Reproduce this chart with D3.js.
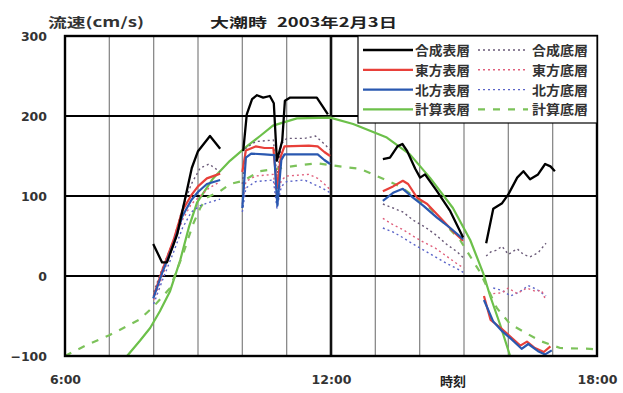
<!DOCTYPE html>
<html>
<head>
<meta charset="utf-8">
<script src="https://cdn.jsdelivr.net/npm/d3@7/dist/d3.min.js"></script>
<style>
  body { margin: 0; background: #fff; }
  svg { display: block; }
</style>
</head>
<body>
<div id="chart"></div>
<script>
// hours (decimal) and speed cm/s, null = gap between measuring runs
var gousei_hyo = [
  [7.99, 40], [8.19, 17], [8.3, 17], [8.53, 52], [8.71, 97], [8.86, 135], [9.0, 156], [9.27, 175], [9.5, 159], null,
  [10.02, 156], [10.1, 202], [10.22, 221], [10.33, 226], [10.47, 223], [10.62, 225], [10.71, 216], [10.78, 144],
  [10.9, 169], [10.96, 219], [11.08, 223], [11.68, 223], [11.8, 213], [11.93, 202], null,
  [13.17, 146], [13.33, 148], [13.5, 162], [13.61, 165], [13.72, 156], [13.9, 134], [14.01, 123], [14.12, 127],
  [14.39, 106], [14.69, 81], [14.98, 48], null,
  [15.5, 41], [15.66, 84], [15.86, 91], [16.0, 102], [16.2, 123], [16.34, 131], [16.49, 121], [16.67, 127],
  [16.83, 140], [16.95, 137], [17.05, 131]
];
var toho_hyo = [
  [8.0, -25], [8.2, 8], [8.45, 45], [8.65, 82], [8.85, 101], [9.0, 112], [9.2, 122], [9.5, 128], null,
  [10.0, 130], [10.08, 157], [10.3, 162], [10.5, 160], [10.7, 160], [10.78, 110], [10.87, 150], [10.95, 162],
  [11.5, 163], [11.7, 162], [11.85, 155], [11.98, 150], null,
  [13.17, 106], [13.4, 112], [13.62, 119], [13.74, 115], [13.94, 98], [14.17, 90], [14.46, 73], [14.75, 56], [14.98, 44], null,
  [15.45, -25], [15.6, -55], [15.83, -65], [16.05, -76], [16.27, -87], [16.42, -82], [16.6, -90], [16.8, -95], [16.95, -88]
];
var hoppo_hyo = [
  [7.99, -28], [8.2, 5], [8.45, 40], [8.65, 75], [8.85, 95], [9.0, 105], [9.2, 115], [9.5, 120], null,
  [10.0, 85], [10.08, 148], [10.2, 153], [10.5, 152], [10.72, 151], [10.79, 88], [10.88, 145], [10.95, 152],
  [11.7, 152], [11.85, 145], [11.98, 140], null,
  [13.17, 94], [13.4, 104], [13.62, 109], [13.85, 98], [14.08, 88], [14.39, 73], [14.69, 60], [14.98, 46], null,
  [15.45, -30], [15.66, -57], [15.86, -69], [16.07, -79], [16.3, -91], [16.45, -85], [16.67, -94], [16.83, -98], [16.98, -93]
];
var keisan_hyo = [
  [7.4, -100], [7.69, -81], [7.92, -65], [8.14, -44], [8.37, -19], [8.6, 20], [8.8, 62], [8.98, 92],
  [9.34, 122], [9.72, 144], [10.1, 162], [10.4, 175], [10.69, 188], [11.23, 197], [11.98, 198], [12.5, 190],
  [13.26, 173], [13.78, 152], [14.23, 123], [14.75, 85], [15.14, 45], [15.43, 4], [15.59, -25], [15.81, -60], [16.04, -100]
];
var gousei_tei = [
  [8.0, -20], [8.2, 10], [8.45, 45], [8.65, 85], [8.85, 115], [9.05, 135], [9.25, 140], [9.5, 130], null,
  [10.0, 115], [10.08, 160], [10.3, 168], [10.7, 170], [10.78, 125], [10.88, 165], [11.0, 172], [11.4, 172],
  [11.65, 175], [11.85, 165], [11.98, 158], null,
  [13.17, 90], [13.4, 85], [13.62, 80], [13.85, 70], [14.1, 62], [14.35, 52], [14.6, 40], [14.85, 30], [15.0, 22], null,
  [15.5, 25], [15.6, 30], [15.72, 32], [15.86, 37], [16.0, 27], [16.2, 34], [16.34, 27], [16.49, 24], [16.67, 29], [16.85, 41]
];
var toho_tei = [
  [8.0, -30], [8.2, 0], [8.45, 40], [8.65, 70], [8.85, 90], [9.05, 100], [9.25, 110], [9.5, 118], null,
  [10.0, 90], [10.08, 118], [10.3, 125], [10.7, 127], [10.78, 95], [10.88, 120], [11.0, 125], [11.5, 127],
  [11.7, 122], [11.85, 115], [11.98, 108], null,
  [13.17, 72], [13.4, 64], [13.62, 58], [13.85, 50], [14.1, 42], [14.35, 35], [14.6, 25], [14.85, 15], [15.0, 10], null,
  [15.66, -22], [15.86, -21], [16.0, -15], [16.2, -22], [16.42, -15], [16.6, -19], [16.75, -18], [16.85, -31]
];
var hoppo_tei = [
  [8.0, -35], [8.2, -5], [8.45, 30], [8.65, 60], [8.85, 80], [9.05, 88], [9.25, 92], [9.5, 96], null,
  [10.0, 80], [10.08, 110], [10.3, 118], [10.7, 120], [10.78, 85], [10.88, 112], [11.0, 118], [11.4, 120],
  [11.6, 115], [11.8, 110], [11.98, 104], null,
  [13.17, 60], [13.4, 55], [13.62, 48], [13.85, 40], [14.1, 32], [14.35, 24], [14.6, 16], [14.85, 9], [15.0, 4], null,
  [15.66, -15], [15.86, -18], [16.05, -25], [16.25, -20], [16.45, -12], [16.65, -17], [16.85, -25]
];
var keisan_tei = [
  [6.0, -100], [6.5, -86], [7.0, -74], [7.35, -64], [7.69, -54], [8.0, -38], [8.37, -15], [8.66, 27],
  [8.89, 65], [9.05, 85], [9.2, 98], [9.5, 106], [9.72, 115], [10.02, 119], [10.4, 131], [10.78, 134],
  [11.23, 138], [11.68, 141], [12.2, 137], [12.65, 134], [12.95, 127], [13.56, 112], [14.23, 85],
  [14.91, 45], [15.36, 5], [15.74, -40], [16.04, -60], [16.42, -72], [16.71, -81], [17.17, -90], [17.84, -91], [18.0, -92]
];

var y_ticks = [-100, 0, 100, 200, 300];
var x_ticks = [6, 12, 18];
var hours = [7, 8, 9, 10, 11, 13, 14, 15, 16, 17];

var series = [
  { name: "計算表層", data: keisan_hyo, color: "#6cc04a", dash: null, w: 2.2 },
  { name: "計算底層", data: keisan_tei, color: "#7cc25a", dash: "7,8", w: 2.2 },
  { name: "北方底層", data: hoppo_tei, color: "#5a64c8", dash: "2,3", w: 1.4 },
  { name: "東方底層", data: toho_tei, color: "#e0607c", dash: "2,3", w: 1.4 },
  { name: "合成底層", data: gousei_tei, color: "#6a5a78", dash: "2,3", w: 1.4 },
  { name: "東方表層", data: toho_hyo, color: "#e8403a", dash: null, w: 2.2 },
  { name: "北方表層", data: hoppo_hyo, color: "#2a58b0", dash: null, w: 2.2 },
  { name: "合成表層", data: gousei_hyo, color: "#000000", dash: null, w: 2.3 }
];

var W = 623, H = 393;
var margin = { top: 36, right: 26, bottom: 37, left: 65 };

var svg = d3.select("#chart").append("svg")
  .attr("width", W).attr("height", H);

var x = d3.scaleLinear().domain([6, 18]).range([margin.left, W - margin.right]);
var y = d3.scaleLinear().domain([-100, 300]).range([H - margin.bottom, margin.top]);

var cjk = "'Noto Sans CJK JP', sans-serif";
var num = "'DejaVu Sans', Arial, sans-serif";

// vertical hour grid
svg.append("g").selectAll("line").data(hours).enter().append("line")
  .attr("x1", d => x(d)).attr("x2", d => x(d))
  .attr("y1", y(300)).attr("y2", y(-100))
  .attr("stroke", "#8a8a8a").attr("stroke-width", 1.3);

// horizontal grid
svg.append("g").selectAll("line").data([0, 100, 200]).enter().append("line")
  .attr("x1", x(6)).attr("x2", x(18))
  .attr("y1", d => y(d)).attr("y2", d => y(d))
  .attr("stroke", "#000").attr("stroke-width", 2.2);

svg.append("line")
  .attr("x1", x(12)).attr("x2", x(12))
  .attr("y1", y(300)).attr("y2", y(-100))
  .attr("stroke", "#111").attr("stroke-width", 2.6);

var line = d3.line()
  .defined(d => d != null)
  .x(d => x(d[0]))
  .y(d => y(d[1]));

svg.append("clipPath").attr("id", "plotclip")
  .append("rect")
  .attr("x", x(6)).attr("y", y(300))
  .attr("width", x(18) - x(6)).attr("height", y(-100) - y(300) + 1);

svg.append("g").attr("clip-path", "url(#plotclip)")
  .selectAll("path").data(series).enter().append("path")
  .attr("d", d => line(d.data))
  .attr("fill", "none")
  .attr("stroke", d => d.color)
  .attr("stroke-width", d => d.w)
  .attr("stroke-dasharray", d => d.dash)
  .attr("stroke-linejoin", "round");

// frame
svg.append("rect")
  .attr("x", x(6)).attr("y", y(300))
  .attr("width", x(18) - x(6)).attr("height", y(-100) - y(300))
  .attr("fill", "none").attr("stroke", "#000").attr("stroke-width", 2.4);

// axes
var yAxis = svg.append("g")
  .attr("transform", `translate(${x(6)},0)`)
  .call(d3.axisLeft(y).tickValues(y_ticks).tickSize(0).tickPadding(18));
yAxis.select(".domain").remove();
yAxis.selectAll("text")
  .style("font-family", num).style("font-size", "12.5px").style("font-weight", "bold")
  .attr("fill", "#333");

var xAxis = svg.append("g")
  .attr("transform", `translate(0,${y(-100)})`)
  .call(d3.axisBottom(x).tickValues(x_ticks).tickSize(0).tickPadding(19).tickFormat(d => d + ":00"));
xAxis.select(".domain").remove();
xAxis.selectAll("text")
  .style("font-family", num).style("font-size", "12.5px").style("font-weight", "bold")
  .attr("fill", "#333");

// titles
svg.append("text")
  .attr("x", 48).attr("y", 27)
  .attr("textLength", 96).attr("lengthAdjust", "spacingAndGlyphs")
  .style("font-family", cjk).style("font-size", "13px").style("font-weight", "bold")
  .attr("fill", "#333")
  .text("流速(cm/s)");

svg.append("text")
  .attr("x", 210).attr("y", 27)
  .attr("textLength", 57).attr("lengthAdjust", "spacingAndGlyphs")
  .style("font-family", cjk).style("font-size", "13px").style("font-weight", "bold")
  .attr("fill", "#222")
  .text("大潮時");

svg.append("text")
  .attr("x", 277).attr("y", 27)
  .attr("textLength", 120).attr("lengthAdjust", "spacingAndGlyphs")
  .style("font-family", cjk).style("font-size", "13px").style("font-weight", "bold")
  .attr("fill", "#222")
  .text("2003年2月3日");

svg.append("text")
  .attr("x", 453).attr("y", 386)
  .attr("text-anchor", "middle")
  .style("font-family", cjk).style("font-size", "13px").style("font-weight", "bold")
  .attr("fill", "#222")
  .text("時刻");

// legend
var legend = svg.append("g");
legend.append("rect")
  .attr("x", 358).attr("y", y(300))
  .attr("width", x(18) - 358).attr("height", 87)
  .attr("fill", "#fff").attr("stroke", "#000").attr("stroke-width", 1.2);

var leg_left = ["合成表層", "東方表層", "北方表層", "計算表層"];
var leg_right = ["合成底層", "東方底層", "北方底層", "計算底層"];
var byName = {};
series.forEach(s => byName[s.name] = s);

leg_left.forEach(function (n, i) {
  var s = byName[n], yy = 50 + i * 19.8;
  legend.append("line")
    .attr("x1", 363).attr("x2", 413).attr("y1", yy).attr("y2", yy)
    .attr("stroke", s.color).attr("stroke-width", s.w);
  legend.append("text")
    .attr("x", 415).attr("y", yy + 5)
    .attr("textLength", 55).attr("lengthAdjust", "spacingAndGlyphs")
    .style("font-family", cjk).style("font-size", "13px").style("font-weight", "bold")
    .attr("fill", "#333").text(n);
});
leg_right.forEach(function (n, i) {
  var s = byName[n], yy = 50 + i * 19.8;
  legend.append("line")
    .attr("x1", 478).attr("x2", 528).attr("y1", yy).attr("y2", yy)
    .attr("stroke", s.color).attr("stroke-width", s.w)
    .attr("stroke-dasharray", s.dash);
  legend.append("text")
    .attr("x", 532).attr("y", yy + 5)
    .attr("textLength", 56).attr("lengthAdjust", "spacingAndGlyphs")
    .style("font-family", cjk).style("font-size", "13px").style("font-weight", "bold")
    .attr("fill", "#333").text(n);
});
</script>
</body>
</html>
